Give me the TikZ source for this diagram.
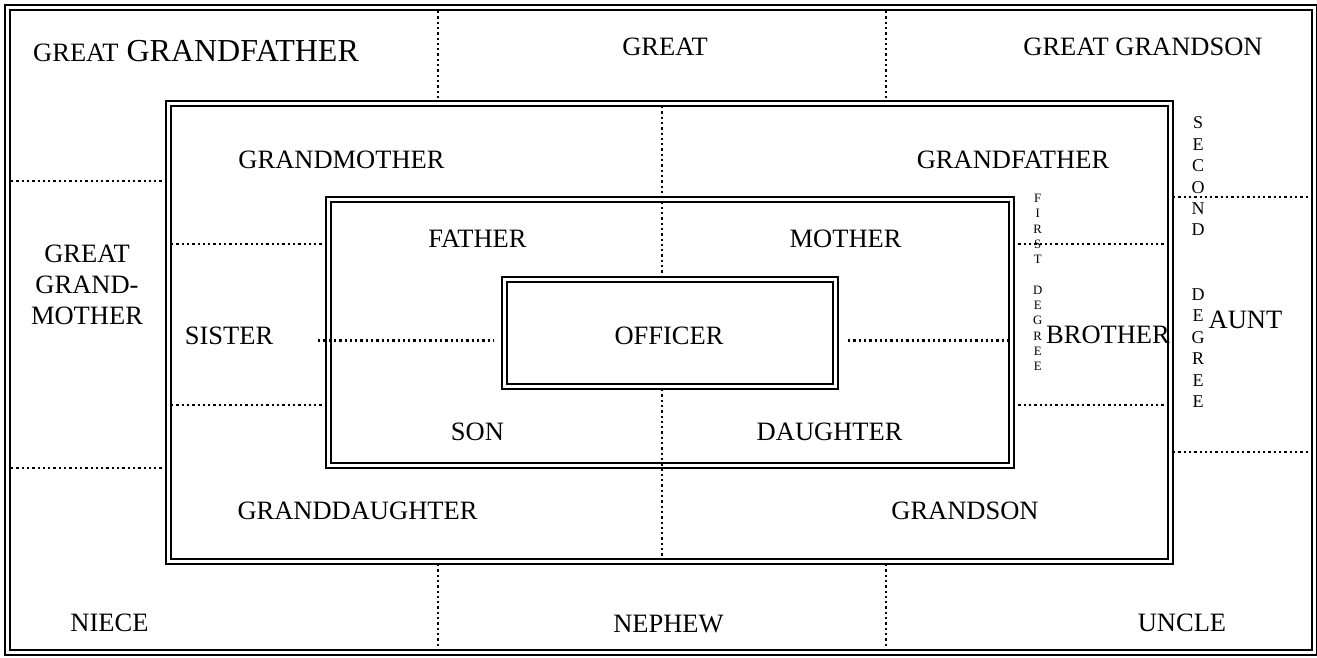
\documentclass[tikz,border=0pt]{standalone}
\usepackage{fontspec}
\setmainfont{Liberation Serif}
\begin{document}
\begin{tikzpicture}[x=1pt,y=-1pt,
  dbl/.style={draw=black, line width=2pt, double=white, double distance=3pt},
  dotline/.style={draw=black, line width=2.3pt, dash pattern=on 2.3pt off 3pt},
  lbl/.style={inner sep=0pt, font=\fontsize{26.5}{30.7}\selectfont, align=center},
  vfirst/.style={inner sep=0pt, font=\fontsize{12.8}{15.31}\selectfont, align=center},
  vsecond/.style={inner sep=0pt, font=\fontsize{18}{21.46}\selectfont, align=center}]
\useasboundingbox (0,0) rectangle (1317,657);
\fill[white] (0,0) rectangle (1317,657);

% boxes
\coordinate (fTL) at (7.5,7.5);   \coordinate (fBR) at (1314,652.5);
\coordinate (bTL) at (168.5,103.5); \coordinate (bBR) at (1170.5,561.8);
\coordinate (pTL) at (328,199.5); \coordinate (pBR) at (1011,465.8);
\coordinate (oTL) at (504,279);   \coordinate (oBR) at (835.8,386.5);
\draw[dbl] (fTL) rectangle (fBR);
\draw[dbl] (bTL) rectangle (bBR);
\draw[dbl] (pTL) rectangle (pBR);
\draw[dbl] (oTL) rectangle (oBR);

% outer ring dotted dividers
\draw[dotline] (438,11) -- (438,101);
\draw[dotline] (886,11) -- (886,101);
\draw[dotline] (438,564) -- (438,650);
\draw[dotline] (886,564) -- (886,650);
\draw[dotline] (11,181) -- (166,181);
\draw[dotline] (11,468.3) -- (166,468.3);
\draw[dotline] (1173,197) -- (1312,197);
\draw[dotline] (1173,452) -- (1312,452);

% second ring dividers
\draw[dotline] (662,106) -- (662,276.5);
\draw[dotline] (662,389) -- (662,559.5);
\draw[dotline] (171,244) -- (326,244);
\draw[dotline] (171,405) -- (326,405);
\draw[dotline] (1013,244) -- (1168,244);
\draw[dotline] (1013,405) -- (1168,405);

% centre dividers
\draw[dotline] (318,340.5) -- (493,340.5);
\draw[dotline] (848,340.5) -- (1009,340.5);

% labels
\node[anchor=base west, inner sep=0pt] (ggf) at (33,61)
  {\fontsize{26.5}{30}\selectfont GREAT\fontsize{32}{36}\selectfont{} GRANDFATHER};
\node[lbl] (great) at (665,46.7) {GREAT};
\node[lbl] (ggs) at (1143,46.7) {GREAT GRANDSON};
\node[lbl] (gm) at (341.5,159.5) {GRANDMOTHER};
\node[lbl] (gf) at (1013,160) {GRANDFATHER};
\node[lbl] (father) at (477.5,239) {FATHER};
\node[lbl] (mother) at (845.6,239) {MOTHER};
\node[lbl] (ggm) at (87,285) {GREAT\\GRAND-\\MOTHER};
\node[lbl] (sister) at (229,336) {SISTER};
\node[lbl] (officer) at (669,335.7) {OFFICER};
\node[lbl] (brother) at (1108,335) {BROTHER};
\node[lbl] (aunt) at (1245.5,320) {AUNT};
\node[lbl] (son) at (477.5,431.7) {SON};
\node[lbl] (daughter) at (829.6,431.7) {DAUGHTER};
\node[lbl] (gd) at (357.5,511) {GRANDDAUGHTER};
\node[lbl] (gs) at (965,511) {GRANDSON};
\node[lbl] (niece) at (109.5,623) {NIECE};
\node[lbl] (nephew) at (668.5,624) {NEPHEW};
\node[lbl] (uncle) at (1182,623) {UNCLE};

% vertical degree labels
\node[vfirst] (first) at (1037.7,282.5)
  {F\\I\\R\\S\\T\\[15.31pt]D\\E\\G\\R\\E\\E};
\node[vsecond] (second) at (1198,262.2)
  {S\\E\\C\\O\\N\\D\\[42.92pt]D\\E\\G\\R\\E\\E};
\end{tikzpicture}
\end{document}
